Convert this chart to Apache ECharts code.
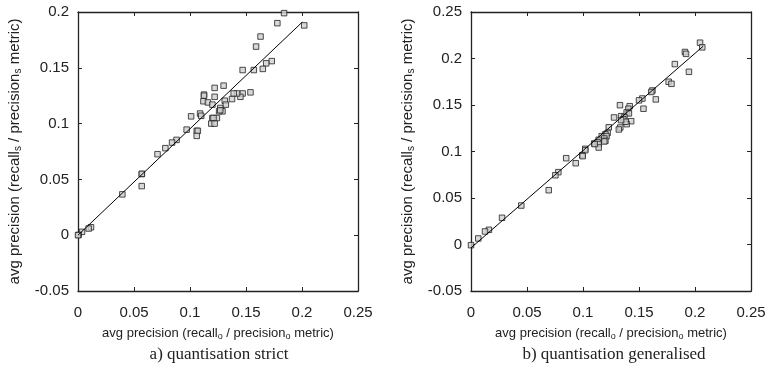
<!DOCTYPE html>
<html><head><meta charset="utf-8">
<script src="https://cdn.jsdelivr.net/npm/echarts@6/dist/echarts.min.js"></script>
<style>html,body{margin:0;padding:0;background:#fff}#c{width:769px;height:371px}</style>
</head><body><div id="c"></div>
<script>
// Plot a) quantisation strict: [recall_o/precision_o, recall_s/precision_s]
const strictPoints = [
  [0.184,0.199],[0.202,0.188],[0.178,0.190],[0.163,0.178],[0.159,0.169],
  [0.173,0.156],[0.168,0.154],[0.165,0.149],[0.157,0.148],[0.147,0.148],
  [0.154,0.128],[0.147,0.127],[0.145,0.124],[0.142,0.127],[0.139,0.127],
  [0.1375,0.122],[0.130,0.134],[0.122,0.132],[0.1125,0.126],[0.1125,0.125],[0.122,0.124],
  [0.131,0.1205],[0.132,0.117],[0.112,0.120],[0.116,0.119],[0.120,0.117],
  [0.127,0.114],[0.129,0.111],[0.126,0.111],[0.127,0.112],[0.109,0.109],[0.110,0.107],
  [0.101,0.1065],[0.120,0.105],[0.124,0.105],[0.121,0.105],[0.119,0.100],
  [0.122,0.100],[0.097,0.0946],[0.106,0.0935],[0.107,0.0935],[0.106,0.089],
  [0.088,0.0854],[0.084,0.083],[0.078,0.078],[0.071,0.0726],
  [0.057,0.0548],[0.057,0.055],[0.0569,0.044],[0.0396,0.0366],
  [0.0116,0.0071],[0.0095,0.006],[0.0036,0.003],[0.0006,0.0003],[0,0]
];
const strictFit = [[0,0],[0.2003,0.191]];

// Plot b) quantisation generalised
const generalPoints = [
  [0.2045,0.217],[0.2065,0.212],[0.191,0.207],[0.192,0.205],[0.182,0.194],
  [0.1946,0.1857],[0.1765,0.175],[0.179,0.1728],[0.162,0.1656],[0.161,0.164],
  [0.165,0.156],[0.153,0.157],[0.150,0.155],[0.154,0.146],[0.133,0.1498],
  [0.1417,0.1487],[0.1405,0.146],[0.139,0.142],[0.141,0.141],[0.1277,0.1366],
  [0.134,0.138],[0.137,0.137],[0.136,0.1347],[0.143,0.1326],[0.139,0.1294],
  [0.138,0.132],[0.134,0.1337],[0.123,0.126],[0.1333,0.1258],[0.132,0.1237],
  [0.122,0.120],[0.120,0.1186],[0.1167,0.1165],[0.121,0.1165],[0.119,0.114],
  [0.114,0.1126],[0.110,0.1086],[0.113,0.110],[0.120,0.1115],[0.119,0.1108],
  [0.114,0.108],[0.114,0.1043],[0.1104,0.108],[0.102,0.1029],[0.102,0.1014],
  [0.0994,0.096],[0.0997,0.095],[0.085,0.0928],[0.0935,0.0874],[0.078,0.0778],
  [0.0753,0.0745],[0.0694,0.0584],[0.0449,0.0419],[0.0277,0.0287],[0.016,0.0158],
  [0.0125,0.014],[0.0065,0.0065],[0,-0.0007]
];
const generalFit = [[0,-0.0036],[0.2074,0.2133]];

const xTicks = {min:0, max:0.25, interval:0.05};
const yTicksA = {min:-0.05, max:0.2, interval:0.05};
const yTicksB = {min:-0.05, max:0.25, interval:0.05};

const xName = '{n|avg precision (recall}{s|o}{n| / precision}{s|o}{n| metric)}';
const yName = '{n|avg precision (recall}{s|s}{n| / precision}{s|s}{n| metric)}';
const captions = ['a) quantisation strict', 'b) quantisation generalised'];

const SANS = 'Liberation Sans, Arial, sans-serif';
const AX = '#222';
function richFor(size){
  return {
    n:{fontSize:size, fontFamily:SANS, color:'#222', lineHeight:size+2},
    s:{fontSize:Math.round(size*0.68), fontFamily:SANS, color:'#222', verticalAlign:'bottom', lineHeight:size+2, padding:[Math.round(size*0.5),0,0,0]}
  };
}
function fmt(v){ return (Math.round(v*100)/100).toString(); }

const grids = [
  {left:78, top:12, width:280, height:279},
  {left:471, top:12, width:280, height:279}
];
function xAx(g, main){
  return {type:'value', gridIndex:g, position: main?'bottom':'top', ...xTicks,
    axisLine:{show:true, onZero:false, lineStyle:{color:AX, width:1.3}},
    axisTick:{show:true, inside:true, length:4, lineStyle:{color:AX}},
    axisLabel:{show:main, margin:14, fontSize:15, fontFamily:SANS, color:'#222', formatter:fmt},
    splitLine:{show:false},
    name: main? xName : '', nameLocation:'middle', nameGap:32,
    nameTextStyle:{rich:richFor(13)}
  };
}
function yAx(g, ticks, main){
  return {type:'value', gridIndex:g, position: main?'left':'right', ...ticks,
    axisLine:{show:true, onZero:false, lineStyle:{color:AX, width:1.3}},
    axisTick:{show:true, inside:true, length:4, lineStyle:{color:AX}},
    axisLabel:{show:main, margin:9, fontSize:15, fontFamily:SANS, color:'#222', formatter:fmt},
    splitLine:{show:false},
    name: main? yName : '', nameLocation:'middle', nameGap:55,
    nameTextStyle:{rich:richFor(15)}
  };
}
const sym = {symbol:'rect', symbolSize:5.5, itemStyle:{color:'#d0d0d0', borderColor:'#222', borderWidth:1}};
const option = {
  animation:false,
  grid: grids,
  xAxis:[xAx(0,true), xAx(1,true), xAx(0,false), xAx(1,false)],
  yAxis:[yAx(0,yTicksA,true), yAx(1,yTicksB,true), yAx(0,yTicksA,false), yAx(1,yTicksB,false)],
  series:[
    {type:'scatter', xAxisIndex:0, yAxisIndex:0, data:strictPoints, ...sym},
    {type:'line', xAxisIndex:0, yAxisIndex:0, data:strictFit, showSymbol:false, symbol:'none', lineStyle:{color:'#000', width:1}},
    {type:'scatter', xAxisIndex:1, yAxisIndex:1, data:generalPoints, ...sym},
    {type:'line', xAxisIndex:1, yAxisIndex:1, data:generalFit, showSymbol:false, symbol:'none', lineStyle:{color:'#000', width:1}}
  ],
  graphic:[
    {type:'text', x:219, y:355, style:{text:captions[0], align:'center', verticalAlign:'middle', font:'17px "Liberation Serif", serif', fill:'#222'}},
    {type:'text', x:614, y:355, style:{text:captions[1], align:'center', verticalAlign:'middle', font:'17px "Liberation Serif", serif', fill:'#222'}}
  ]
};
const chart = echarts.init(document.getElementById('c'), null, {renderer:'canvas'});
chart.setOption(option);
</script></body></html>
